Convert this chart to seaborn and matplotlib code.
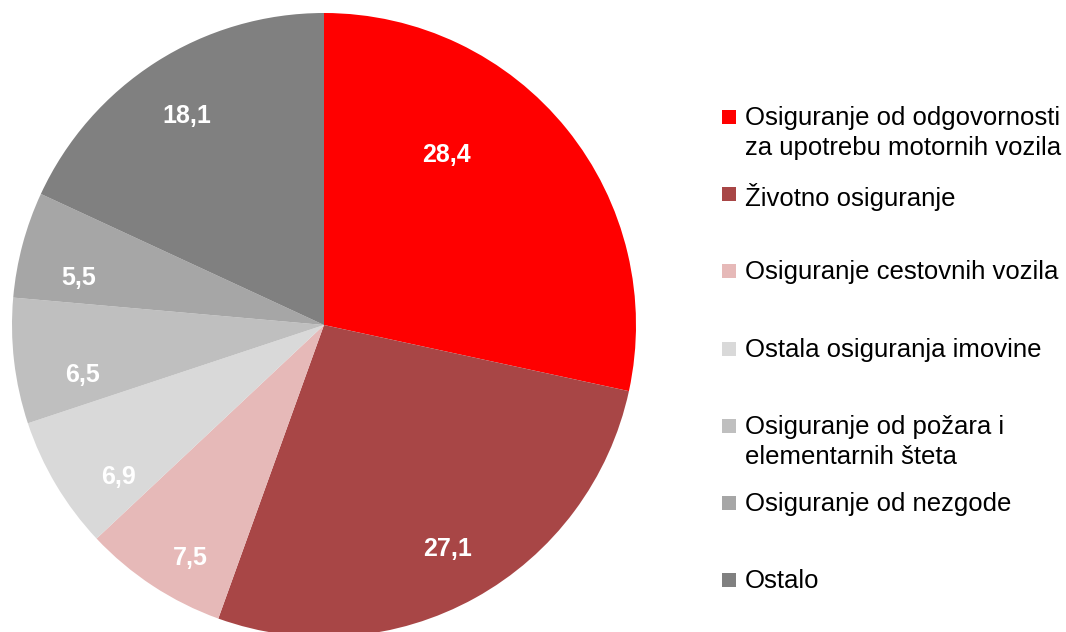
import numpy as np
import matplotlib
matplotlib.use("Agg")
import matplotlib.pyplot as plt
from matplotlib.patches import Rectangle
import seaborn as sns

# Struktura premija po vrstama osiguranja (%)
kategorije = [
    "Osiguranje od odgovornosti\nza upotrebu motornih vozila",
    "Životno osiguranje",
    "Osiguranje cestovnih vozila",
    "Ostala osiguranja imovine",
    "Osiguranje od požara i\nelementarnih šteta",
    "Osiguranje od nezgode",
    "Ostalo",
]
udjeli = [28.4, 27.1, 7.5, 6.9, 6.5, 5.5, 18.1]
boje = ["#FF0000", "#A84646", "#E6B9B8", "#D9D9D9", "#BFBFBF", "#A6A6A6", "#808080"]

# polozaj oznaka unutar isjecka (udio kuta od pocetka, udaljenost od sredista)
oznaka_kut = [0.35, 0.5, 0.37, 0.27, 0.28, 0.29, 0.49]
oznaka_r = [0.67, 0.82, 0.86, 0.82, 0.79, 0.80, 0.80]

sns.set_theme(style="white")
plt.rcParams["font.family"] = ["Liberation Sans", "DejaVu Sans"]

W, H = 1066, 632
fig = plt.figure(figsize=(W / 100, H / 100), dpi=100)
fig.patch.set_facecolor("white")

# Os za pitu, postavljena u pikselima
cx, cy, r = 324, 325, 312
ax = fig.add_axes([(cx - r) / W, 1 - (cy + r) / H, 2 * r / W, 2 * r / H])
wedges, _ = ax.pie(
    udjeli,
    colors=boje,
    startangle=90,
    counterclock=False,
    radius=1,
    wedgeprops=dict(linewidth=0),
)
ax.set_xlim(-1, 1)
ax.set_ylim(-1, 1)
ax.axis("off")

for w, v, f, rr in zip(wedges, udjeli, oznaka_kut, oznaka_r):
    kut = np.deg2rad(w.theta2 - f * (w.theta2 - w.theta1))
    ax.text(
        rr * np.cos(kut), rr * np.sin(kut),
        f"{v:.1f}".replace(".", ","),
        color="white", fontsize=18, fontweight="bold",
        ha="center", va="center",
    )

# Legenda
y0, korak = 117, 77.2
for i, (lab, c) in enumerate(zip(kategorije, boje)):
    y = y0 + i * korak
    fig.patches.append(Rectangle(((722) / W, 1 - (y + 7) / H), 14 / W, 14 / H,
                                 transform=fig.transFigure, facecolor=c,
                                 edgecolor="none"))
    fig.text(745 / W, 1 - (y - 11) / H, lab, fontsize=18.5, color="black",
             ha="left", va="top", linespacing=1.32)

fig.savefig("out.png", dpi=100)
